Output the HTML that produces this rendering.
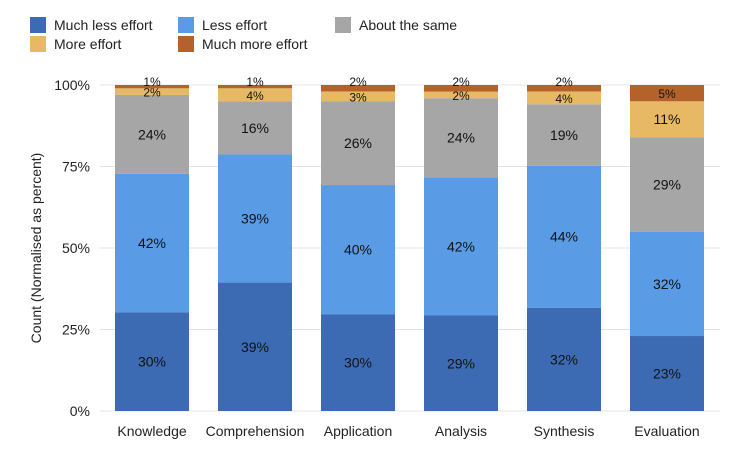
<!DOCTYPE html>
<html><head><meta charset="utf-8"><style>
body{margin:0;background:#fff;font-family:"Liberation Sans",sans-serif;}
svg text{font-family:"Liberation Sans",sans-serif;}
</style></head><body>
<svg id="c" width="745" height="448"></svg>
<script>
const categories=["Knowledge","Comprehension","Application","Analysis","Synthesis","Evaluation"];
const seriesNames=["Much less effort","Less effort","About the same","More effort","Much more effort"];
const muchLess=[30,39,30,29,32,23];
const less=[42,39,40,42,44,32];
const same=[24,16,26,24,19,29];
const more=[2,4,3,2,4,11];
const muchMore=[1,1,2,2,2,5];
const yTicks=[0,25,50,75,100];
const colors=["#3d6bb3","#5a9be6","#a6a6a6","#e8b965","#b5622a"];
const series=[muchLess,less,same,more,muchMore];
const NS="http://www.w3.org/2000/svg";
const svg=document.getElementById('c');
function mk(t,a,p){const e=document.createElementNS(NS,t);for(const k in a)e.setAttribute(k,a[k]);(p||svg).appendChild(e);return e;}
const y0=411,y1=85,bw=74,x0=152,step=103;
const yS=v=>y0-(y0-y1)*v/100;
const xS=i=>x0+i*step;
// grid
yTicks.forEach(t=>{
 const g=mk('line',{x1:100,x2:720,y1:yS(t),y2:yS(t),stroke:'#e3e3e3','stroke-width':1});
 
 
 const l=mk('text',{x:90,y:yS(t)+5,'text-anchor':'end','font-size':14,fill:'#222'});
 l.textContent=t+'%';
 
 
});
const yt=mk('text',{x:0,y:0,transform:'translate(41,248) rotate(-90)','text-anchor':'middle','font-size':14,fill:'#222'});
yt.textContent='Count (Normalised as percent)';


categories.forEach((c,i)=>{
 let tot=0;series.forEach(s=>tot+=s[i]);
 let cum=0;
 series.forEach((s,k)=>{
  const v=s[i]*100/tot;
  const top=yS(cum+v),bot=yS(cum);
  const r=mk('rect',{x:xS(i)-bw/2,y:top,width:bw,height:bot-top,fill:colors[k]});
  
  
  const t=mk('text',{x:xS(i),y:(top+bot)/2+5,'text-anchor':'middle','font-size':k>=3&&v<6?12:14,fill:'#111'});
  t.textContent=s[i]+'%';
  
  
  if(k===4&&v<3)t.setAttribute('y',top+1);
  cum+=v;
 });
 const xl=mk('text',{x:xS(i),y:436,'text-anchor':'middle','font-size':14,fill:'#222'});
 xl.textContent=c;
 
 
});
const lp=[[30,17],[178,17],[335,17],[30,36],[178,36]];
seriesNames.forEach((n,k)=>{
 const g=mk('g',{});
 
 
 mk('rect',{x:lp[k][0],y:lp[k][1],width:16,height:16,fill:colors[k]},g);
 const t=mk('text',{x:lp[k][0]+24,y:lp[k][1]+13,'font-size':14,fill:'#222'},g);
 t.textContent=n;
});
</script>
</body></html>
